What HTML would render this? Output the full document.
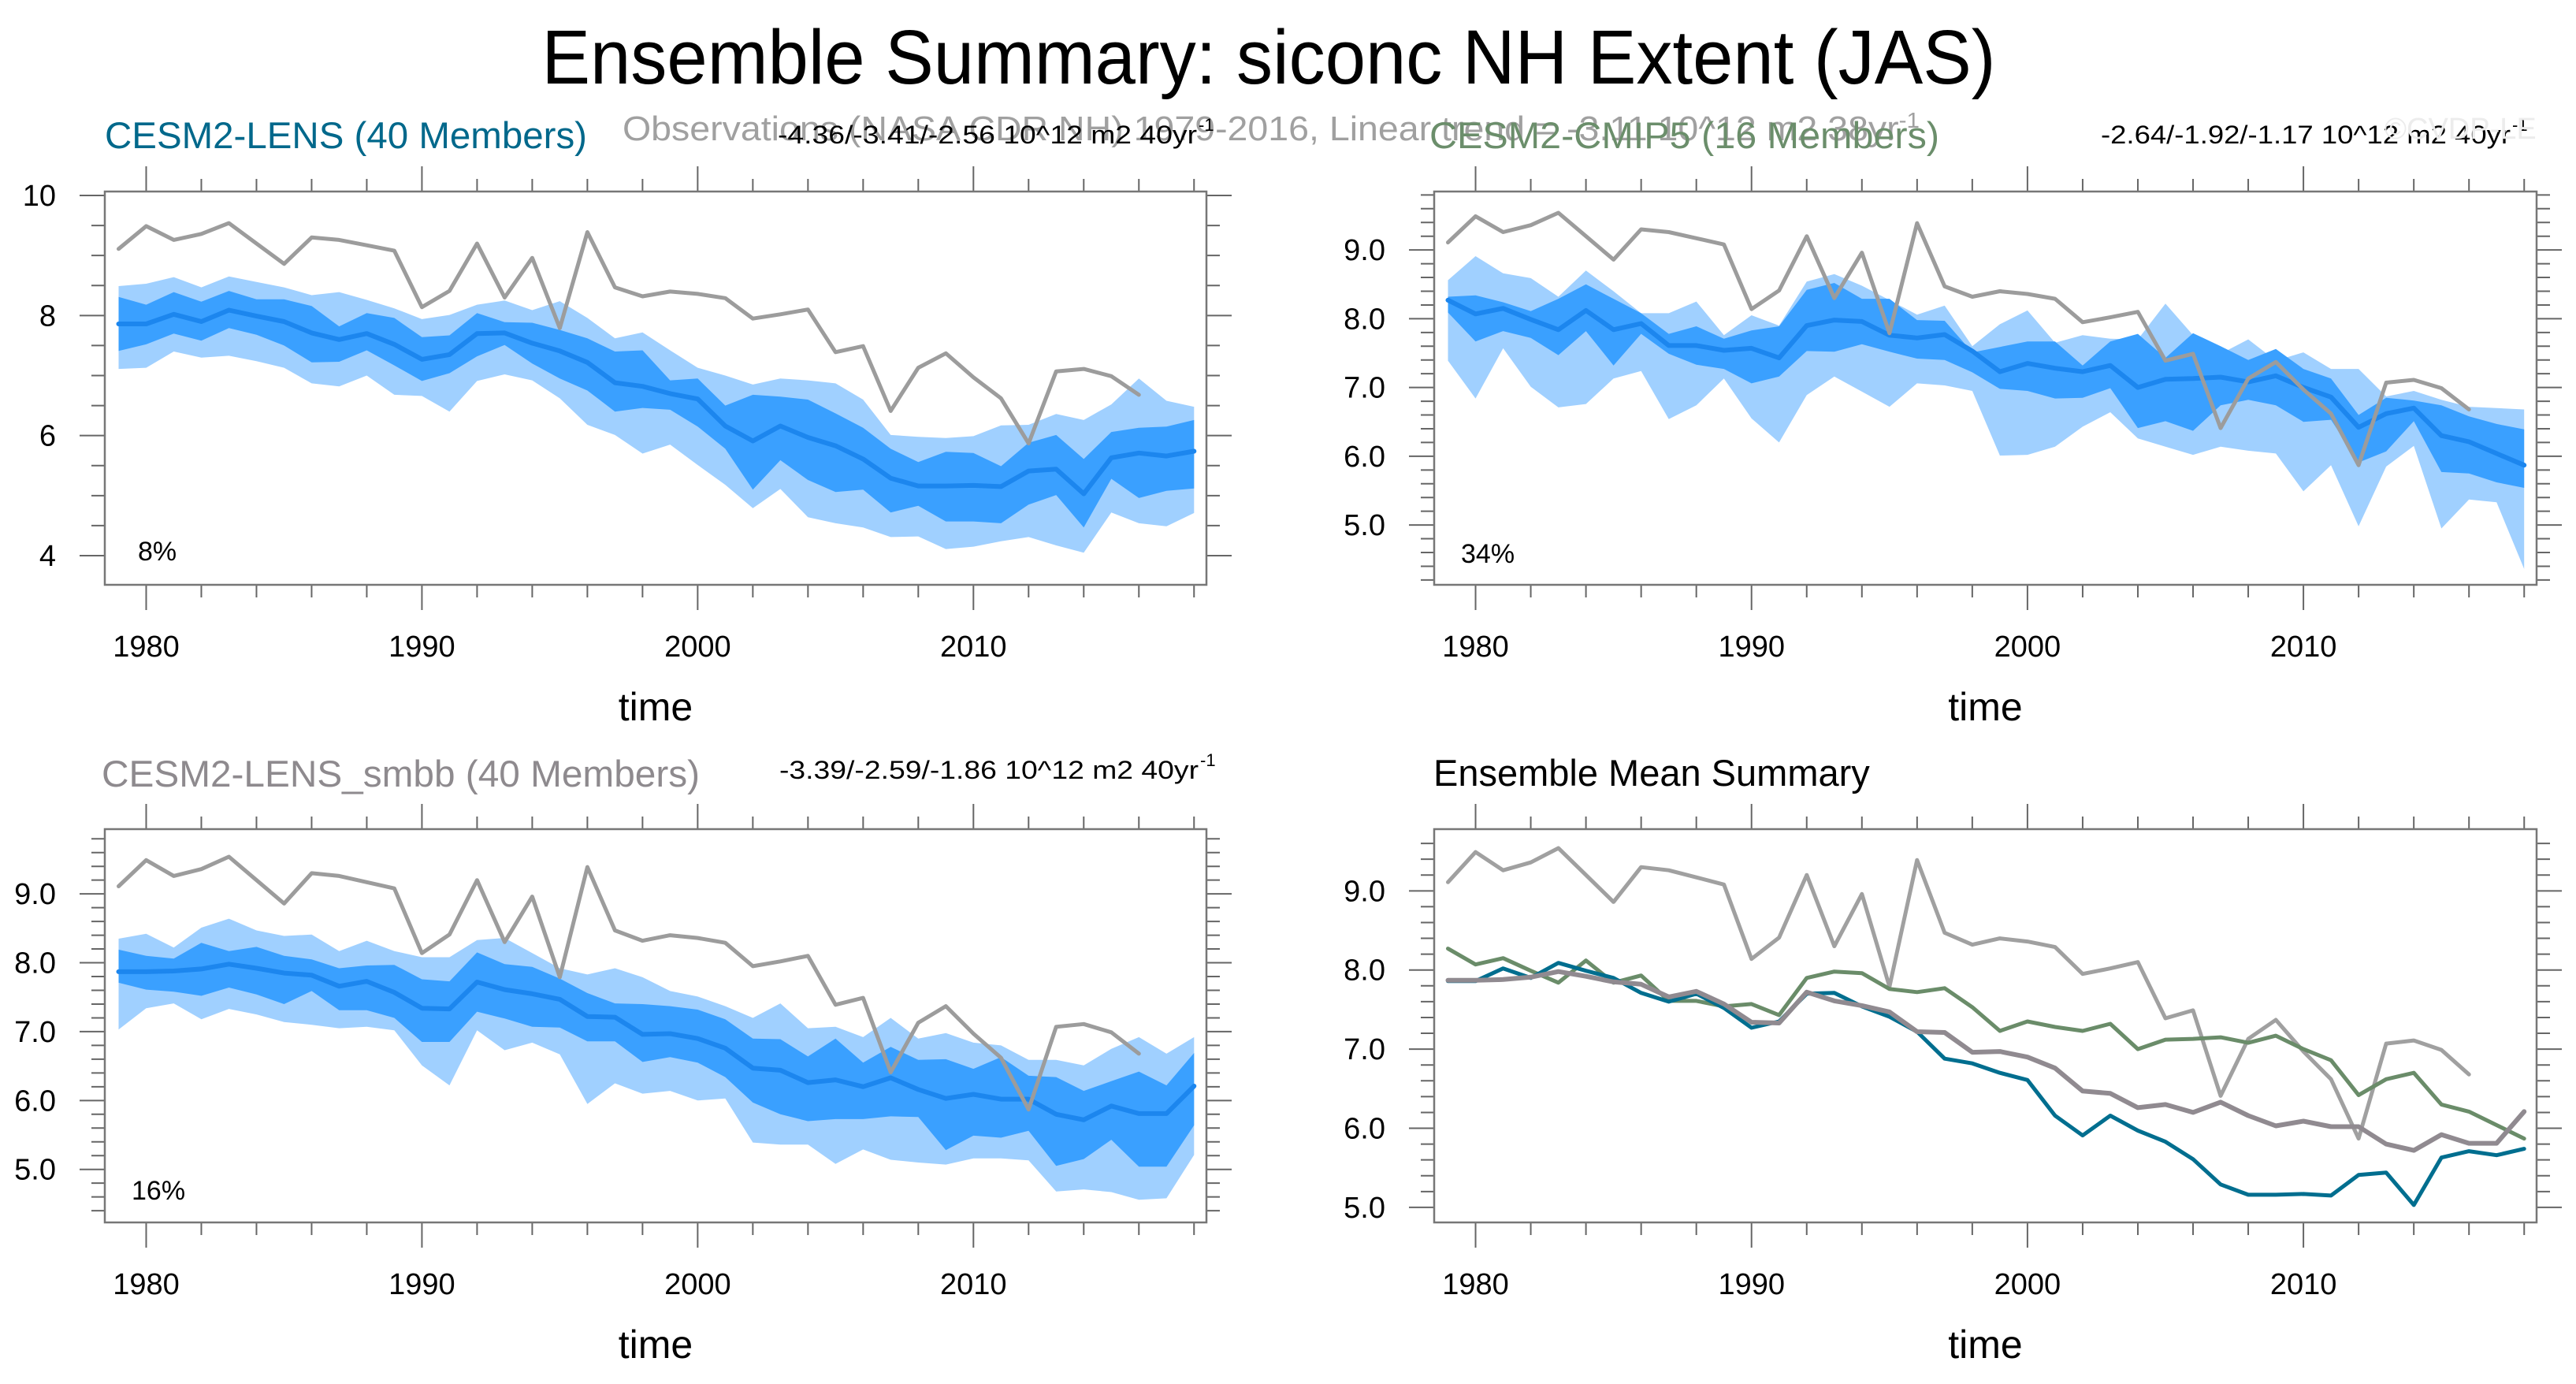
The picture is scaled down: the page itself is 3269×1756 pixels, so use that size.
<!DOCTYPE html>
<html><head><meta charset="utf-8"><style>
html,body{margin:0;padding:0;background:#fff;}
svg{display:block;font-family:"Liberation Sans",Arial,sans-serif;}
</style></head><body>
<svg id="chart" xmlns="http://www.w3.org/2000/svg" width="3269" height="1756" viewBox="0 0 3269 1756">
<rect x="0" y="0" width="3269" height="1756" fill="#fff"/>
<text x="1610" y="106" font-size="97" text-anchor="middle" textLength="1845" lengthAdjust="spacingAndGlyphs" fill="#000">Ensemble Summary: siconc NH Extent (JAS)</text>
<text x="790" y="178" font-size="44" textLength="1646" lengthAdjust="spacingAndGlyphs" fill="#a0a0a0">Observations (NASA CDR NH) 1979-2016, Linear trend = -3.11 10^12 m2 38yr<tspan dy="-16" font-size="28">-1</tspan></text>
<text x="133" y="188" font-size="47" textLength="612" lengthAdjust="spacingAndGlyphs" fill="#00688b">CESM2-LENS (40 Members)</text>
<text x="987" y="182" font-size="32" textLength="532" lengthAdjust="spacingAndGlyphs" fill="#000">-4.36/-3.41/-2.56 10^12 m2 40yr</text>
<text x="1521" y="166" font-size="22" fill="#000">-1</text>
<text x="1814" y="188" font-size="47" textLength="647" lengthAdjust="spacingAndGlyphs" fill="#6b8e6b">CESM2-CMIP5 (16 Members)</text>
<text x="2666" y="182" font-size="32" textLength="520" lengthAdjust="spacingAndGlyphs" fill="#000">-2.64/-1.92/-1.17 10^12 m2 40yr</text>
<text x="3188" y="166" font-size="22" fill="#000">-1</text>
<text x="3026" y="176" font-size="38" fill="#ececec">©CVDP-LE</text>
<text x="129" y="998" font-size="47" textLength="759" lengthAdjust="spacingAndGlyphs" fill="#8e8a8e">CESM2-LENS_smbb (40 Members)</text>
<text x="989" y="988" font-size="32" textLength="532" lengthAdjust="spacingAndGlyphs" fill="#000">-3.39/-2.59/-1.86 10^12 m2 40yr</text>
<text x="1523" y="972" font-size="22" fill="#000">-1</text>
<text x="1819" y="997" font-size="47" fill="#000">Ensemble Mean Summary</text>
</svg>
<script>
const years = [];
for (let y = 1979; y <= 2018; y++) years.push(y);
const obsYears = [];
for (let y = 1979; y <= 2016; y++) obsYears.push(y);

const obs = [9.11,9.49,9.26,9.36,9.54,9.20,8.86,9.30,9.26,9.17,9.08,8.14,8.41,9.20,8.30,8.96,7.79,9.39,8.47,8.32,8.40,8.36,8.29,7.95,8.02,8.10,7.39,7.49,6.41,7.13,7.37,6.97,6.62,5.87,7.07,7.11,6.99,6.68];

const lensMean = [7.86,7.86,8.02,7.90,8.09,7.99,7.90,7.71,7.60,7.70,7.52,7.27,7.35,7.70,7.71,7.54,7.41,7.22,6.88,6.82,6.70,6.61,6.16,5.91,6.16,5.97,5.83,5.61,5.29,5.16,5.16,5.17,5.15,5.41,5.44,5.03,5.63,5.71,5.66,5.74];
const cmip5Mean = [8.27,8.07,8.15,7.99,7.84,8.12,7.84,7.93,7.61,7.61,7.54,7.57,7.43,7.90,7.98,7.96,7.76,7.72,7.77,7.53,7.23,7.35,7.28,7.23,7.32,7.00,7.12,7.13,7.15,7.08,7.17,7.00,6.86,6.42,6.62,6.70,6.30,6.21,6.04,5.87];
const smbbMean = [7.87,7.87,7.88,7.91,7.98,7.92,7.85,7.82,7.66,7.73,7.57,7.34,7.33,7.72,7.61,7.55,7.47,7.22,7.21,6.96,6.97,6.90,6.76,6.47,6.44,6.26,6.30,6.20,6.33,6.16,6.03,6.09,6.02,6.02,5.80,5.72,5.92,5.81,5.81,6.21];

const lensMax = [8.49,8.53,8.64,8.47,8.65,8.56,8.47,8.34,8.39,8.26,8.12,7.94,8.01,8.18,8.25,8.09,8.24,7.96,7.62,7.72,7.42,7.13,7.00,6.85,6.95,6.92,6.87,6.60,6.01,5.98,5.96,5.99,6.17,6.18,6.36,6.26,6.52,6.95,6.58,6.48];
const lensHi = [8.31,8.18,8.39,8.23,8.41,8.27,8.27,8.16,7.82,8.04,7.96,7.64,7.67,8.04,7.89,7.88,7.76,7.62,7.40,7.42,6.92,6.95,6.50,6.68,6.65,6.60,6.37,6.13,5.78,5.56,5.73,5.71,5.49,5.88,6.01,5.61,6.06,6.13,6.15,6.26];
const lensLo = [7.41,7.52,7.70,7.58,7.79,7.68,7.50,7.22,7.23,7.42,7.17,6.91,7.04,7.32,7.51,7.20,6.95,6.75,6.40,6.46,6.43,6.15,5.78,5.10,5.59,5.26,5.06,5.10,4.72,4.83,4.57,4.57,4.54,4.85,5.01,4.47,5.28,4.96,5.08,5.12];
const lensMin = [7.11,7.13,7.40,7.30,7.33,7.24,7.13,6.87,6.82,7.00,6.68,6.66,6.40,6.91,7.02,6.92,6.62,6.18,6.01,5.70,5.85,5.51,5.18,4.79,5.11,4.64,4.54,4.47,4.31,4.32,4.11,4.15,4.24,4.31,4.17,4.05,4.72,4.54,4.49,4.71];

const cmip5Max = [8.56,8.91,8.66,8.59,8.32,8.70,8.40,8.08,8.08,8.25,7.76,8.05,7.90,8.54,8.65,8.48,8.27,8.06,8.19,7.60,7.92,8.12,7.65,7.76,7.71,7.70,8.22,7.76,7.49,7.70,7.39,7.51,7.27,7.27,6.87,6.95,6.82,6.72,6.70,6.68];
const cmip5Hi = [8.32,8.34,8.24,8.11,8.29,8.50,8.29,8.08,7.78,7.89,7.71,7.83,7.89,8.42,8.52,8.29,8.29,7.98,7.97,7.51,7.59,7.67,7.67,7.32,7.67,7.78,7.43,7.79,7.60,7.40,7.56,7.27,7.13,6.60,6.85,6.81,6.74,6.58,6.47,6.39];
const cmip5Lo = [8.09,7.67,7.82,7.72,7.47,7.82,7.32,7.78,7.49,7.33,7.27,7.06,7.16,7.53,7.52,7.63,7.52,7.42,7.40,7.22,6.98,6.95,6.84,6.85,6.99,6.41,6.51,6.37,6.74,6.82,6.74,6.50,6.53,5.91,6.07,6.51,5.77,5.75,5.62,5.54];
const cmip5Min = [7.39,6.84,7.57,7.01,6.71,6.76,7.13,7.24,6.54,6.74,7.13,6.55,6.20,6.89,7.16,6.94,6.72,7.06,7.03,6.95,6.01,6.02,6.14,6.43,6.64,6.26,6.14,6.02,6.14,6.08,6.04,5.49,5.87,4.98,5.85,6.15,4.95,5.37,5.33,4.36];

const smbbMax = [8.35,8.42,8.22,8.51,8.64,8.47,8.39,8.41,8.17,8.32,8.17,8.08,8.08,8.33,8.36,8.14,7.92,7.83,7.92,7.79,7.59,7.51,7.37,7.20,7.41,7.05,7.07,6.92,7.20,6.90,6.98,6.84,6.80,6.59,6.59,6.51,6.75,6.92,6.68,6.92];
const smbbHi = [8.19,8.10,8.06,8.29,8.17,8.23,8.10,8.05,7.92,7.96,7.97,7.76,7.73,8.15,7.98,7.94,7.77,7.56,7.41,7.40,7.37,7.32,7.18,6.90,6.89,6.64,6.90,6.55,6.78,6.59,6.60,6.46,6.63,6.36,6.34,6.14,6.28,6.42,6.22,6.69];
const smbbLo = [7.71,7.61,7.58,7.52,7.64,7.54,7.40,7.59,7.31,7.31,7.20,6.85,6.85,7.29,7.19,7.07,7.06,6.86,6.86,6.56,6.63,6.55,6.34,5.97,5.80,5.70,5.73,5.73,5.77,5.76,5.28,5.49,5.46,5.56,5.05,5.15,5.43,5.04,5.04,5.64];
const smbbMin = [7.03,7.34,7.41,7.18,7.33,7.25,7.14,7.10,7.05,7.07,7.02,6.51,6.22,7.02,6.73,6.84,6.67,5.95,6.25,6.10,6.14,6.00,6.03,5.39,5.36,5.36,5.08,5.29,5.14,5.10,5.07,5.16,5.16,5.13,4.68,4.71,4.67,4.56,4.58,5.21];

const p1YTicks = [4,6,8,10];
const p1YLabels = ["4","6","8","10"];
const pYTicks = [5,6,7,8,9];
const pYLabels = ["5.0","6.0","7.0","8.0","9.0"];
const xTicks = [1980,1990,2000,2010];
const xLabels = ["1980","1990","2000","2010"];
const pctLabels = ["8%","34%","16%"];

const NS = "http://www.w3.org/2000/svg";
const svg = document.getElementById('chart');
function el(tag, attrs, parent) {
  const e = document.createElementNS(NS, tag);
  for (const k in attrs) e.setAttribute(k, attrs[k]);
  (parent || svg).appendChild(e);
  return e;
}

const X0 = 1978.5, X1 = 2018.45;
function makePanel(id, x0, y0, w, h, ymin, ymax, minorStep, yTicks, yLabels) {
  const g = el('g', {});
  
  
  const sx = v => x0 + (v - X0) / (X1 - X0) * w;
  const sy = v => y0 + (ymax - v) / (ymax - ymin) * h;
  const cp = el('clipPath', {id: id + '-clip'}, g);
  el('rect', {x: x0, y: y0, width: w, height: h}, cp);
  const plot = el('g', {'clip-path': 'url(#' + id + '-clip)'}, g);
  
  
  const tg = el('g', {stroke: '#666', 'stroke-width': 2}, g);
  
  
  for (let yr = 1980; yr <= 2018; yr += 2) {
    const major = (yr % 10 === 0);
    const L = major ? 32 : 16;
    const xx = sx(yr);
    el('line', {x1: xx, x2: xx, y1: y0 + h, y2: y0 + h + L}, tg);
    el('line', {x1: xx, x2: xx, y1: y0, y2: y0 - L}, tg);
  }
  const start = Math.ceil(ymin / minorStep - 1e-6);
  for (let k = start; k * minorStep <= ymax + 1e-6; k++) {
    const v = k * minorStep;
    const major = yTicks.some(t => Math.abs(t - v) < 1e-6);
    const L = major ? 32 : 17;
    const yy = sy(v);
    el('line', {x1: x0 - L, x2: x0, y1: yy, y2: yy}, tg);
    el('line', {x1: x0 + w, x2: x0 + w + L, y1: yy, y2: yy}, tg);
  }
  el('rect', {x: x0, y: y0, width: w, height: h, fill: 'none', stroke: '#777', 'stroke-width': 2.5}, g);
  yTicks.forEach((t, i) => {
    const tx = el('text', {x: x0 - 62, y: sy(t) + 13, 'font-size': 38, 'text-anchor': 'end', fill: '#000'}, g);
    tx.textContent = yLabels[i];
    
    
  });
  xTicks.forEach((t, i) => {
    const tx = el('text', {x: sx(t), y: y0 + h + 91, 'font-size': 38, 'text-anchor': 'middle', fill: '#000'}, g);
    tx.textContent = xLabels[i];
    
    
  });
  const tl = el('text', {x: x0 + w / 2, y: y0 + h + 172, 'font-size': 50, 'text-anchor': 'middle', fill: '#000'}, g);
  tl.textContent = 'time';
  
  
  return {sx, sy, plot, g};
}

function linePts(P, xs, vals) {
  return vals.map((v, i) => P.sx(xs[i]).toFixed(1) + ',' + P.sy(v).toFixed(1)).join(' ');
}
function band(P, upper, lower, color, name) {
  const pts = upper.map((v, i) => P.sx(years[i]).toFixed(1) + ',' + P.sy(v).toFixed(1));
  for (let i = lower.length - 1; i >= 0; i--) pts.push(P.sx(years[i]).toFixed(1) + ',' + P.sy(lower[i]).toFixed(1));
  const p = el('polygon', {points: pts.join(' '), fill: color}, P.plot);
  
  
}
function line(P, xs, vals, color, wdt, name) {
  const p = el('polyline', {points: linePts(P, xs, vals), fill: 'none', stroke: color, 'stroke-width': wdt, 'stroke-linejoin': 'round', 'stroke-linecap': 'round'}, P.plot);
  
  
}
function pct(P, x, y, s, name) {
  const t = el('text', {x: x, y: y, 'font-size': 34, fill: '#000'}, P.g);
  t.textContent = s;
  
  
}

const LIGHT = '#a0d0ff', DARK = '#3aa0ff', MEAN = '#1c86ee', OBS = '#9c9c9c';

const P1 = makePanel('cesm2-lens', 133, 243, 1398, 499, 3.514, 10.066, 0.5, p1YTicks, p1YLabels);
band(P1, lensMax, lensMin, LIGHT, 'lens-range-band');
band(P1, lensHi, lensLo, DARK, 'lens-spread-band');
line(P1, years, lensMean, MEAN, 6, 'lens-mean-line');
line(P1, obsYears, obs, OBS, 5, 'lens-panel-obs-line');
pct(P1, 175, 711, pctLabels[0], 'lens-percent-label');

const P2 = makePanel('cesm2-cmip5', 1820, 243, 1399, 499, 4.13, 9.85, 0.2, pYTicks, pYLabels);
band(P2, cmip5Max, cmip5Min, LIGHT, 'cmip5-range-band');
band(P2, cmip5Hi, cmip5Lo, DARK, 'cmip5-spread-band');
line(P2, years, cmip5Mean, MEAN, 6, 'cmip5-mean-line');
line(P2, obsYears, obs, OBS, 5, 'cmip5-panel-obs-line');
pct(P2, 1854, 714, pctLabels[1], 'cmip5-percent-label');

const P3 = makePanel('cesm2-lens-smbb', 133, 1052, 1398, 499, 4.23, 9.94, 0.2, pYTicks, pYLabels);
band(P3, smbbMax, smbbMin, LIGHT, 'smbb-range-band');
band(P3, smbbHi, smbbLo, DARK, 'smbb-spread-band');
line(P3, years, smbbMean, MEAN, 6, 'smbb-mean-line');
line(P3, obsYears, obs, OBS, 5, 'smbb-panel-obs-line');
pct(P3, 167, 1522, pctLabels[2], 'smbb-percent-label');

const P4 = makePanel('ensemble-mean', 1820, 1052, 1399, 499, 4.81, 9.78, 0.2, pYTicks, pYLabels);
line(P4, obsYears, obs, '#a0a0a0', 5, 'summary-obs-line');
line(P4, years, cmip5Mean, '#6a8c69', 5, 'summary-cmip5-line');
line(P4, years, lensMean, '#006e8f', 5, 'summary-lens-line');
line(P4, years, smbbMean, '#908a90', 6, 'summary-smbb-line');
</script>
</body></html>
